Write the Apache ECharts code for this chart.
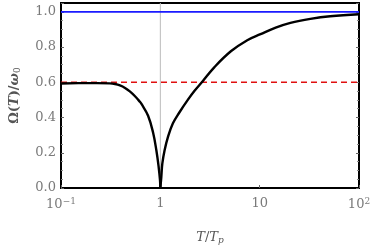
<!DOCTYPE html>
<html><head><meta charset="utf-8">
<script src="https://cdn.jsdelivr.net/npm/echarts@6/dist/echarts.min.js"></script>
<style>html,body{margin:0;padding:0;background:#fff}#c{width:374px;height:250px}</style>
</head><body><div id="c"></div>
<script>
// Black curve: left branch (T < 1) and right branch (T > 1)
const leftT   = [0.1, 0.15, 0.229, 0.311, 0.35, 0.392, 0.441, 0.493, 0.553, 0.621, 0.646, 0.753, 0.845, 0.912, 0.962, 0.993, 1.0];
const leftV   = [0.593, 0.595, 0.595, 0.594, 0.59, 0.582, 0.568, 0.548, 0.522, 0.49, 0.477, 0.41, 0.315, 0.214, 0.119, 0.043, 0.0];
const rightT  = [1.0, 1.023, 1.047, 1.104, 1.194, 1.339, 1.56, 1.89, 2.2, 2.67, 3.49, 5.13, 7.5, 10.2, 14.5, 20.4, 32.4, 51.3, 100];
const rightV  = [0.0, 0.062, 0.138, 0.214, 0.29, 0.367, 0.43, 0.50, 0.55, 0.606, 0.685, 0.776, 0.839, 0.873, 0.91, 0.937, 0.96, 0.975, 0.986];
const blueLevel = 1.0;
const redLevel = 0.6;
const xTickLabels = {"0.1": "10{sup|−1}", "1": "1", "10": "10", "100": "10{sup|2}"};
const yTickLabels = ["0.0", "0.2", "0.4", "0.6", "0.8", "1.0"];

const gray = '#7a7a7a';
const fontF = 'DejaVu Serif';
const chart = echarts.init(document.getElementById('c'));
chart.setOption({
  animation: false,
  grid: {left: 59, right: 15, top: 3, bottom: 62, show: true, borderColor: '#000', borderWidth: 2},
  xAxis: {
    type: 'log', logBase: 10, min: 0.1, max: 100,
    axisLine: {lineStyle: {color: '#000', width: 2}},
    axisTick: {inside: true, length: 3, lineStyle: {color: '#666'}},
    splitLine: {show: false},
    axisLabel: {
      color: gray, fontFamily: fontF, fontSize: 13, margin: 9,
      formatter: v => xTickLabels[String(+v.toPrecision(3))] || '',
      rich: {sup: {fontSize: 9, color: gray, fontFamily: fontF, verticalAlign: 'top', padding: [0,0,6,0]}}
    },
    name: '{i|T}/{i|T}{s|p}', nameLocation: 'middle', nameGap: 42,
    nameTextStyle: {color: '#555', fontFamily: fontF, fontSize: 13,
      rich: {i: {fontStyle: 'italic', fontFamily: fontF, fontSize: 13, color: '#555'},
             s: {fontStyle: 'italic', fontFamily: fontF, fontSize: 9, color: '#555', padding: [6,0,0,0]}}}
  },
  yAxis: [{
    type: 'value', min: 0, max: 1.05, interval: 0.2,
    axisLine: {show: true, lineStyle: {color: '#000', width: 2}},
    axisTick: {inside: true, length: 3, lineStyle: {color: '#666'}},
    minorTick: {show: true, splitNumber: 4, length: 2, lineStyle: {color: '#888'}},
    splitLine: {show: false},
    axisLabel: {color: gray, fontFamily: fontF, fontSize: 13, margin: 5, showMaxLabel: false,
      formatter: v => { const i = Math.round(v / 0.2); return Math.abs(v - i*0.2) < 1e-6 ? (yTickLabels[i] || '') : ''; }},
    name: '{n|Ω(}{i|T}{n|)/}{i|ω}{s|0}', nameLocation: 'middle', nameGap: 39, nameRotate: 90,
    nameTextStyle: {color: '#555', fontFamily: fontF, fontSize: 13,
      rich: {n: {fontFamily: fontF, fontSize: 13, color: '#555', fontWeight: 'bold'},
             i: {fontStyle: 'italic', fontFamily: fontF, fontSize: 13, color: '#555', fontWeight: 'bold'},
             s: {fontFamily: fontF, fontSize: 9, color: '#555', padding: [6,0,0,0]}}}
  }, {
    type: 'value', min: 0, max: 1.05, interval: 0.2, position: 'right',
    axisLine: {show: false},
    axisTick: {inside: true, length: 3, lineStyle: {color: '#666'}},
    minorTick: {show: true, splitNumber: 4, length: 2, lineStyle: {color: '#888'}},
    splitLine: {show: false}, axisLabel: {show: false}
  }],
  series: [
    {type: 'line', data: [[1, 0], [1, 1.05]], symbol: 'none', silent: true,
      lineStyle: {color: '#bbb', width: 1}, z: 1},
    {type: 'line', data: [[0.1, blueLevel], [100, blueLevel]], symbol: 'none',
      lineStyle: {color: '#1a1aff', width: 1.8}, z: 2},
    {type: 'line', data: [[0.1, redLevel], [100, redLevel]], symbol: 'none',
      lineStyle: {color: '#e01010', width: 1.6, type: [6, 4]}, z: 3},
    {type: 'line', data: leftT.map((t, i) => [t, leftV[i]]), symbol: 'none', smooth: 0.4,
      lineStyle: {color: '#000', width: 2.4}, z: 4},
    {type: 'line', data: rightT.map((t, i) => [t, rightV[i]]), symbol: 'none', smooth: 0.4,
      lineStyle: {color: '#000', width: 2.4}, z: 4}
  ]
});
</script></body></html>
